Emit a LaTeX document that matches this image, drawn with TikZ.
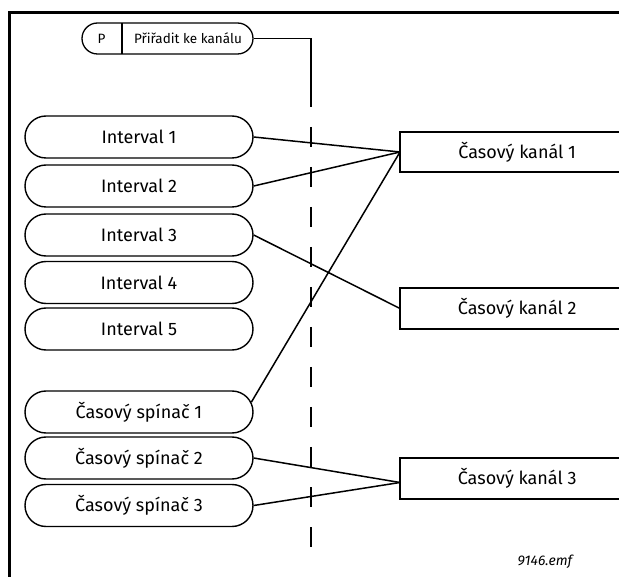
\documentclass[tikz,border=0pt]{standalone}
\usepackage{fontspec}
\setmainfont{Fira Sans}
\usetikzlibrary{shapes.misc}
\begin{document}
\begin{tikzpicture}[x=1pt,y=-1pt,
  pill/.style={rounded rectangle, draw, line width=1.4pt, minimum width=228pt,
    minimum height=42pt, inner sep=0pt, font=\fontsize{18}{18}\selectfont},
  chan/.style={minimum width=234pt, minimum height=40pt, inner sep=0pt,
    anchor=west, font=\fontsize{18}{18}\selectfont},
  small/.style={font=\fontsize{13.5}{13.5}\selectfont},
  link/.style={line width=1.5pt},
  frame/.style={line width=3pt}]
\useasboundingbox (0,0) rectangle (619,577);
\clip (0,0) rectangle (619,577);

% outer frame (top and left edges)
\draw[frame] (9.5,577) -- (9.5,13) -- (619,13);

% parameter tag
\node[rounded rectangle, draw, line width=1.3pt, minimum width=171pt,
  minimum height=31pt, inner sep=0pt] (assign) at (167.5,38.5) {};
\draw[line width=1.3pt] (122,23) -- (122,54);
\node[small] (ptag) at (101.5,38.5) {P};
\node[small] (ptext) at (188,38.5) {Přiřadit ke kanálu};

% assignment line: solid part, then dashed
\coordinate (corner) at (311,41);
\coordinate (solidend) at (311,107);
\coordinate (dashstart) at (311,127);
\coordinate (dashend) at (311,548);
\draw[link] (assign.east) -- (assign.east -| corner) -- (solidend);
\draw[line width=1.9pt, dash pattern=on 20pt off 20pt] (dashstart) -- (dashend);

% intervals and timers
\node[pill] (i1) at (139,137) {Interval 1};
\node[pill] (i2) at (139,186) {Interval 2};
\node[pill] (i3) at (139,235) {Interval 3};
\node[pill] (i4) at (139,282.5) {Interval 4};
\node[pill] (i5) at (139,329) {Interval 5};
\node[pill] (s1) at (139,412) {Časový spínač 1};
\node[pill] (s2) at (139,458) {Časový spínač 2};
\node[pill] (s3) at (139,505.5) {Časový spínač 3};

% time channels (right side runs past the frame)
\node[chan] (c1) at (400,152) {Časový kanál 1};
\node[chan] (c2) at (400,308.5) {Časový kanál 2};
\node[chan] (c3) at (400,478.5) {Časový kanál 3};
\foreach \c in {c1,c2,c3}
  \draw[line width=1.9pt] (\c.north east) -- (\c.north west) -- (\c.south west) -- (\c.south east);

% connections
\draw[link] (i1.east) -- (c1.west);
\draw[link] (i2.east) -- (c1.west);
\draw[link] (s1.5) -- (c1.west);
\draw[link] (i3.east) -- (c2.west);
\draw[link] (s2.east) -- ([yshift=-4pt]c3.west);
\draw[link] (s3.east) -- ([yshift=-4pt]c3.west);

% file tag
\node[font={\fontsize{14}{14}\selectfont\itshape}] (fname) at (545,562) {9146.emf};
\end{tikzpicture}
\end{document}
